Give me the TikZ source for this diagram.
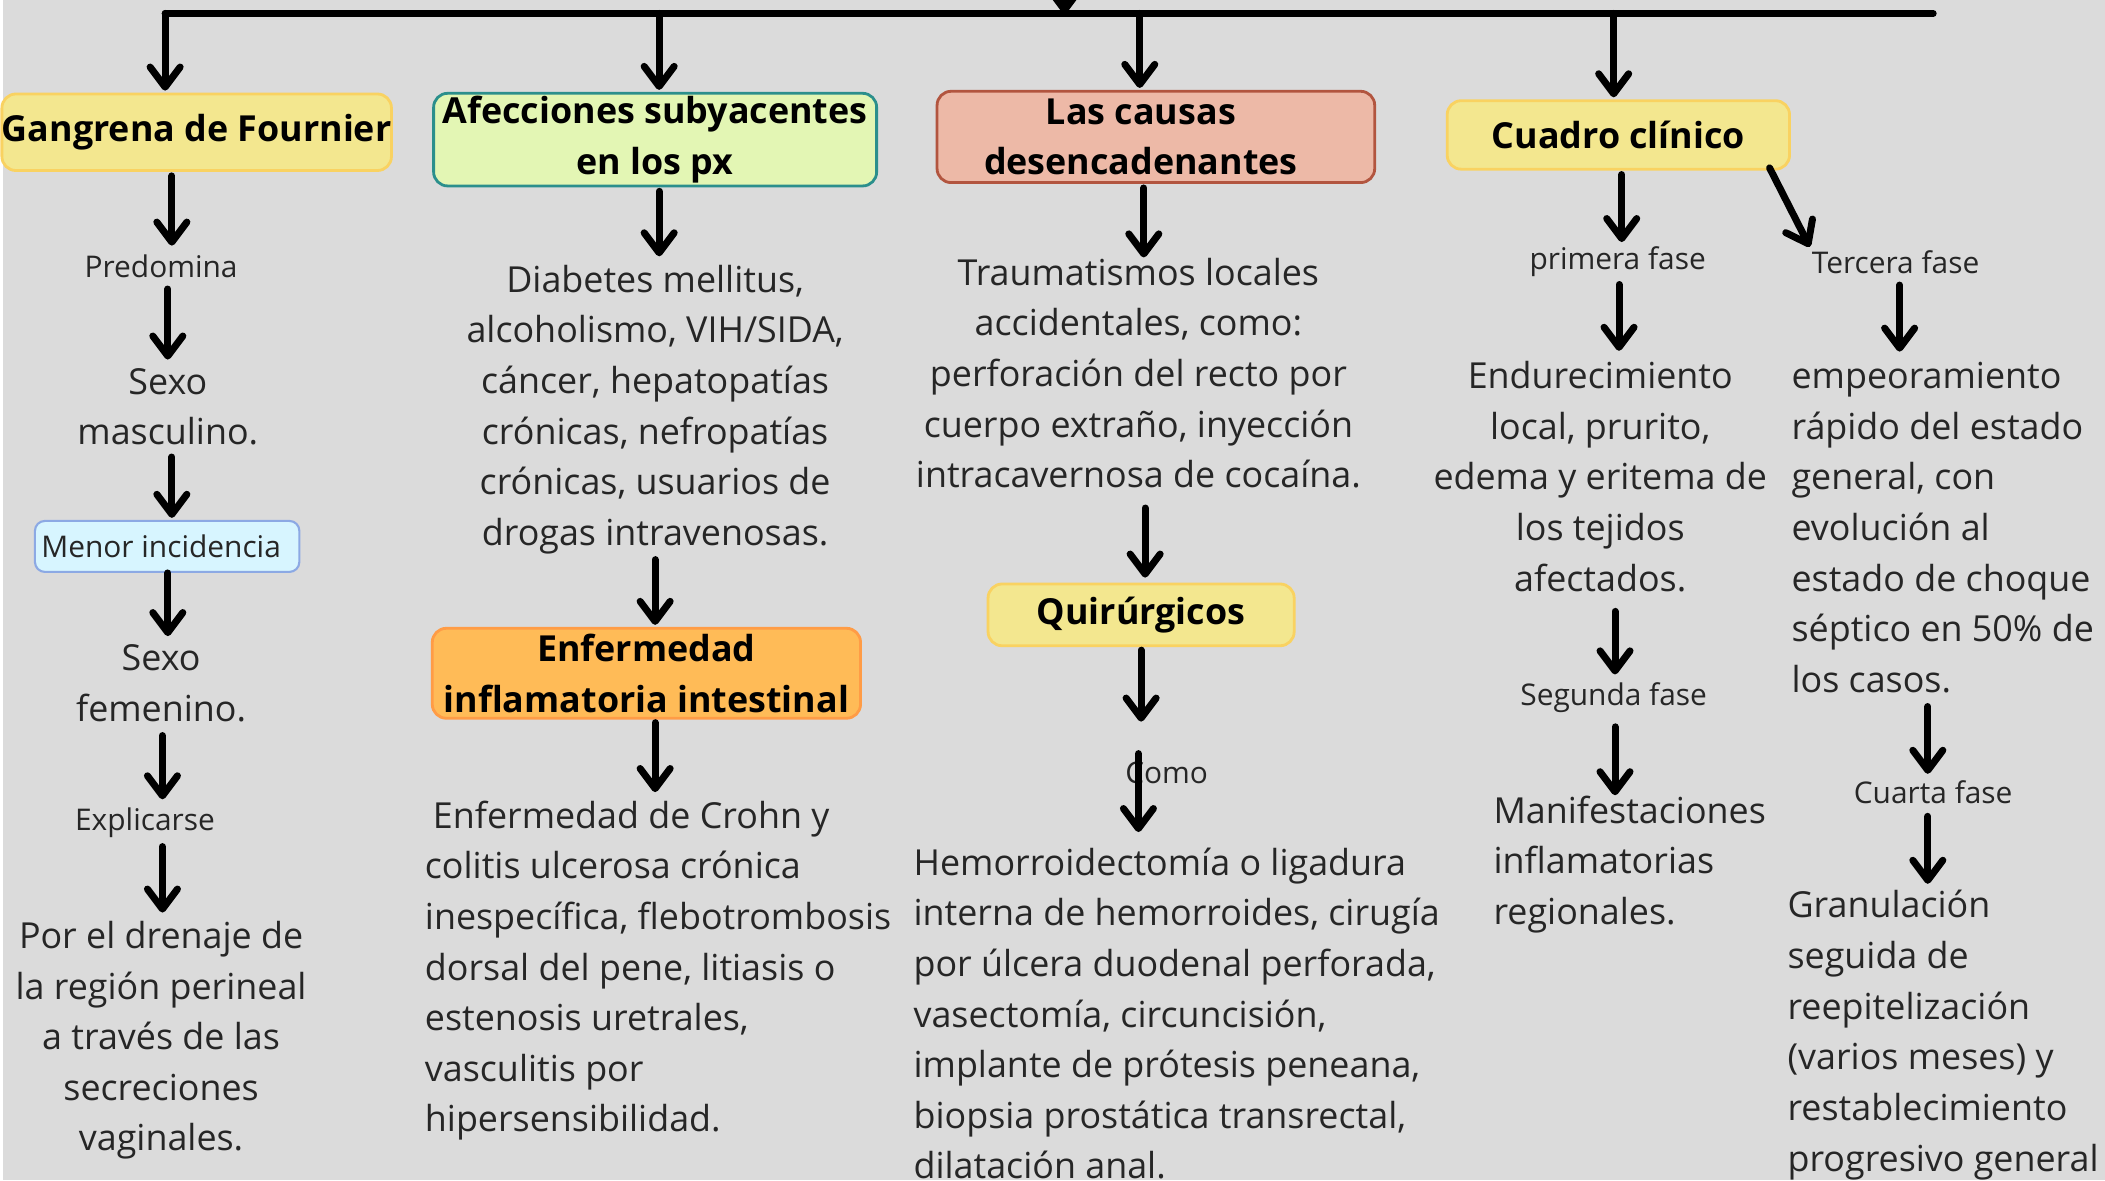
\documentclass[tikz,border=0pt]{standalone}
\usepackage{fontspec}
\setmainfont{Open Sans}
\usetikzlibrary{arrows.meta}
\definecolor{fondo}{HTML}{DBDBDB}
\definecolor{texto}{HTML}{262626}
\definecolor{amarillo}{HTML}{F3E78F}
\definecolor{amarilloB}{HTML}{F9D261}
\definecolor{verde}{HTML}{E3F6B4}
\definecolor{verdeB}{HTML}{2B8F8C}
\definecolor{salmon}{HTML}{EDB9A7}
\definecolor{salmonB}{HTML}{B2553F}
\definecolor{celeste}{HTML}{D7F5FF}
\definecolor{celesteB}{HTML}{8CA9E4}
\definecolor{naranja}{HTML}{FFBB57}
\definecolor{naranjaB}{HTML}{FF9C46}
\def\unid{0.13425mm}
\begin{document}
\begin{tikzpicture}[x=\unid, y=-\unid, line join=round, line cap=round,
	flecha/.style={line width=2pt, shorten <=1.1mm, shorten >=0.8mm, -{Straight Barb[round, length=2mm, width=3mm]}},
	bajada/.style={flecha, shorten <=0mm, shorten >=0.2mm},
	caja/.style={rounded corners=1.4mm, line width=0.8pt, inner sep=0pt, align=center, text=black, font=\fontsize{10.2}{14.4}\selectfont\bfseries},
	txt/.style={inner sep=0pt, text=texto, font=\fontsize{10.2}{14.4}\selectfont},
	etq/.style={inner sep=0pt, text=texto, font=\fontsize{8.5}{10}\selectfont}]
	\useasboundingbox (0,0) rectangle (1568,879);
	\clip (0,0) rectangle (1568,879);
	\fill[fondo] (0,0) rectangle (1568,879);
	\fill[white] (0,0) rectangle (2,879);
	% cajas
	\node[caja, fill=amarillo, draw=amarilloB, minimum width=283*\unid, minimum height=57*\unid] (gang) at (146.5,98.5) {Gangrena de Fournier};
	\node[caja, fill=verde, draw=verdeB, minimum width=330*\unid, minimum height=69*\unid] (afec) at (488,104) {Afecciones subyacentes\\en los px};
	\node[caja, fill=salmon, draw=salmonB, minimum width=326*\unid, minimum height=68*\unid] (causas) at (861,102) {Las causas\hspace*{3mm}\\desencadenantes\hspace*{3mm}};
	\node[caja, fill=amarillo, draw=amarilloB, minimum width=255*\unid, minimum height=51*\unid] (cuadro) at (1205.5,100.5) {Cuadro clínico};
	\node[caja, fill=celeste, draw=celesteB, line width=0.6pt, rounded corners=1mm, text=texto, font=\fontsize{8.5}{10}\selectfont, minimum width=197*\unid, minimum height=38*\unid] (menor) at (124.5,407) {Menor incidencia\hspace*{1.2mm}};
	\node[caja, fill=naranja, draw=naranjaB, minimum width=319*\unid, minimum height=67*\unid] (enf) at (481.5,501.5) {Enfermedad\\inflamatoria intestinal};
	\node[caja, fill=amarillo, draw=amarilloB, minimum width=228*\unid, minimum height=46*\unid] (quir) at (850,458) {Quirúrgicos};
	% columna 1
	\node[etq] (pred) at (120,198) {Predomina};
	\node[txt, align=center] (masc) at (125,303) {Sexo\\masculino.};
	\node[txt, align=center] (fem) at (120,509) {Sexo\\femenino.};
	\node[etq] (expl) at (108,613) {Explicarse};
	\node[txt, align=center] (dren) at (120,775) {Por el drenaje de\\la región perineal\\a través de las\\secreciones\\vaginales.};
	% columna 2
	\node[txt, align=center] (diab) at (488,305) {Diabetes mellitus,\\alcoholismo, VIH/SIDA,\\cáncer, hepatopatías\\crónicas, nefropatías\\crónicas, usuarios de\\drogas intravenosas.};
	\node[txt, align=left, anchor=west] (crohn) at (316,723) {\hspace*{0.8mm}Enfermedad de Crohn y\\colitis ulcerosa crónica\\inespecífica, flebotrombosis\\dorsal del pene, litiasis o\\estenosis uretrales,\\vasculitis por\\hipersensibilidad.};
	% columna 3
	\node[txt, align=center] (traum) at (848,278) {Traumatismos locales\\accidentales, como:\\perforación del recto por\\cuerpo extraño, inyección\\intracavernosa de cocaína.};
	\node[etq] (como) at (869,576) {Como};
	\node[txt, align=left, anchor=west] (hem) at (680,755) {Hemorroidectomía o ligadura\\interna de hemorroides, cirugía\\por úlcera duodenal perforada,\\vasectomía, circuncisión,\\implante de prótesis peneana,\\biopsia prostática transrectal,\\dilatación anal.};
	% columna 4
	\node[etq] (prim) at (1205,195) {primera fase};
	\node[txt, align=center] (endu) at (1192,355) {Endurecimiento\\local, prurito,\\edema y eritema de\\los tejidos\\afectados.};
	\node[etq] (seg) at (1202,520) {Segunda fase};
	\node[txt, align=left, anchor=west] (mani) at (1112,644) {Manifestaciones\\inflamatorias\\regionales.};
	% columna 5
	\node[etq] (terc) at (1412,195) {Tercera fase};
	\node[txt, align=left, anchor=west] (emp) at (1334,393) {empeoramiento\\rápido del estado\\general, con\\evolución al\\estado de choque\\séptico en 50\% de\\los casos.};
	\node[etq] (cuarta) at (1440,590) {Cuarta fase};
	\node[txt, align=left, anchor=west] (gran) at (1331,771) {Granulación\\seguida de\\reepitelización\\(varios meses) y\\restablecimiento\\progresivo general};
	% barra superior
	\coordinate (barI) at (123,10);
	\coordinate (barD) at (1440,10);
	\coordinate (raiz) at (793,-50);
	\draw[line width=2pt] (barI) -- (barD);
	\draw[bajada, shorten >=0mm] (raiz) -- (raiz |- barI);
	\draw[bajada] (barI) -- (gang.north -| barI);
	\draw[bajada] (barI -| 491,0) -- (afec.north -| 491,0);
	\draw[bajada] (barI -| 849,0) -- (causas.north -| 849,0);
	\draw[bajada] (barI -| 1202,0) -- (cuadro.north -| 1202,0);
	% flechas
	\draw[flecha, shorten <=0.4mm] (gang.south -| 128,0) -- (pred.north -| 128,0);
	\draw[flecha] (pred.south -| 125,0) -- (masc.north -| 125,0);
	\draw[flecha, shorten >=0.2mm] (masc.south -| 128,0) -- (menor.north -| 128,0);
	\draw[flecha, shorten <=0mm] (menor.south -| 125,0) -- (fem.north -| 125,0);
	\draw[flecha, shorten <=1.3mm] (fem.south -| 121,0) -- (expl.north -| 121,0);
	\draw[flecha, shorten <=0.8mm] (expl.south -| 121,0) -- (dren.north -| 121,0);
	\draw[flecha, shorten <=0.4mm] (afec.south -| 491,0) -- (diab.north -| 491,0);
	\draw[flecha, shorten <=0.5mm, shorten >=0.2mm] (diab.south -| 488,0) -- (enf.north -| 488,0);
	\draw[flecha, shorten <=0.3mm] (enf.south -| 488,0) -- (crohn.north -| 488,0);
	\draw[flecha, shorten <=0.4mm, shorten >=0mm] (causas.south -| 852,0) -- (traum.north -| 852,0);
	\draw[flecha, shorten <=1.9mm, shorten >=0.5mm] (traum.south -| 853,0) -- (quir.north -| 853,0);
	\draw[flecha, shorten <=0.3mm, shorten >=4mm] (quir.south -| 850,0) -- (como.north -| 850,0);
	\draw[flecha, shorten <=-0.8mm, shorten >=1.5mm] (como.north -| 848,0) -- (hem.north -| 848,0);
	\draw[flecha, shorten <=0.4mm, shorten >=0.4mm] (cuadro.south -| 1208,0) -- (prim.north -| 1208,0);
	\draw[flecha, shorten <=-0.3mm, shorten >=0.3mm] ([xshift=-2mm]cuadro.south east) -- (terc.north west);
	\draw[flecha, shorten <=0.7mm, shorten >=1mm] (prim.south -| 1206,0) -- (endu.north -| 1206,0);
	\draw[flecha, shorten <=1.9mm] (endu.south -| 1203,0) -- (seg.north -| 1203,0);
	\draw[flecha, shorten <=1.3mm, shorten >=0mm] (seg.south -| 1203,0) -- (mani.north -| 1203,0);
	\draw[flecha, shorten >=1mm] (terc.south -| 1415,0) -- (emp.north -| 1415,0);
	\draw[flecha, shorten <=1.3mm, shorten >=0.6mm] (emp.south -| 1436,0) -- (cuarta.north -| 1436,0);
	\draw[flecha, shorten <=1.2mm, shorten >=0.6mm] (cuarta.south -| 1436,0) -- (gran.north -| 1436,0);
\end{tikzpicture}
\end{document}
